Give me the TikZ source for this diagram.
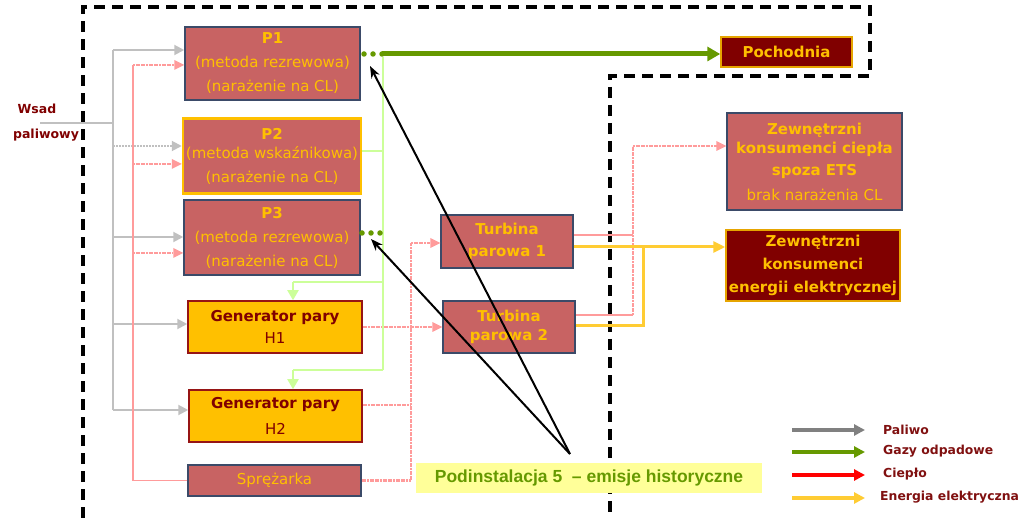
\documentclass[tikz,border=0pt]{standalone}
\usepackage{fontspec}
\setmainfont{DejaVu Sans}
\newfontfamily\arialfont{Liberation Sans}
\usetikzlibrary{arrows.meta}

\definecolor{boxred}{RGB}{200,99,99}
\definecolor{boxblue}{RGB}{59,74,104}
\definecolor{txtyel}{RGB}{255,192,0}
\definecolor{darkred}{RGB}{128,0,0}
\definecolor{genedge}{RGB}{150,20,20}
\definecolor{fuelgray}{RGB}{192,192,192}
\definecolor{heatpink}{RGB}{255,155,155}
\definecolor{lightgreen}{RGB}{204,255,153}
\definecolor{gasgreen}{RGB}{102,153,0}
\definecolor{elyellow}{RGB}{255,204,51}
\definecolor{labelbg}{RGB}{255,255,153}
\definecolor{legendtxt}{RGB}{128,16,16}
\definecolor{pochedge}{RGB}{230,165,0}

\begin{document}
\begin{tikzpicture}[x=1pt,y=-1pt,
  boxtext/.style={align=center,inner sep=0pt,font=\fontsize{15}{24}\selectfont},
  pbox/.style={boxtext,draw=boxblue,line width=1.5pt,fill=boxred,text=txtyel},
  pboxy/.style={pbox,draw=txtyel,line width=2.5pt},
  genbox/.style={boxtext,draw=genedge,line width=1.5pt,fill=txtyel,text=darkred},
  darkbox/.style={boxtext,draw=pochedge,line width=1.5pt,fill=darkred,text=txtyel},
  boundary/.style={draw=black,line width=3.5pt,dash pattern=on 11pt off 7pt},
  fuel/.style={draw=fuelgray,line width=2pt},
  fuelarrow/.style={fuel,-{Triangle[length=10pt,width=10pt]}},
  heatline/.style={draw=heatpink,line width=1.6pt},
  heatdots/.style={draw=heatpink,line width=2.6pt,dash pattern=on 2pt off 0.6pt},
  heatarrow/.style={heatdots,-{Triangle[length=10pt,width=10pt,fill=heatpink,line width=0pt]}},
  lgreen/.style={draw=lightgreen,line width=2pt},
  lgreenarrow/.style={lgreen,-{Triangle[length=10pt,width=11pt]}},
  gasline/.style={draw=gasgreen,line width=5pt},
  gasdots/.style={draw=gasgreen,line width=5.5pt,line cap=round,dash pattern=on 0pt off 9pt},
  elec/.style={draw=elyellow,line width=3pt},
  elecarrow/.style={elec,-{Triangle[length=12pt,width=11pt]}},
  pointer/.style={draw=black,line width=2pt,-{Stealth[length=12pt,width=9pt]}},
  legarrow/.style={line width=3.5pt,-{Triangle[length=11pt,width=11pt]}},
  legtext/.style={anchor=west,inner sep=0pt,text=legendtxt,font=\fontsize{12.4}{14}\selectfont\bfseries}
]
\useasboundingbox (0,0) rectangle (1020,518);

% installation boundary
\draw[boundary] (83,518) -- (83,7) -- (870,7) -- (870,76) -- (610,76) -- (610,518);

% process units
\node[pbox,minimum width=175pt,minimum height=73pt] (p1) at (272.5,63.5)
  {\textbf{P1}\\(metoda rezrewowa)\\(narażenie na CL)};
\node[pboxy,minimum width=178pt,minimum height=75pt] (p2) at (272,156)
  {\textbf{P2}\\[-5pt](metoda wskaźnikowa)\\(narażenie na CL)};
\node[pbox,minimum width=176pt,minimum height=75pt] (p3) at (272,237.5)
  {\textbf{P3}\\(metoda rezrewowa)\\(narażenie na CL)};
\node[genbox,minimum width=174pt,minimum height=52pt] (h1) at (275,327)
  {\textbf{Generator pary}\\[-2pt]H1};
\node[genbox,minimum width=173pt,minimum height=52pt] (h2) at (275.5,416)
  {\textbf{Generator pary}\\[2pt]H2};
\node[pbox,minimum width=173pt,minimum height=31pt] (spr) at (274.5,480.5) {Sprężarka};
\node[pbox,minimum width=132pt,minimum height=53pt,font=\fontsize{15}{22}\selectfont\bfseries] (t1) at (507,241.5)
  {Turbina\\parowa 1};
\node[pbox,minimum width=132pt,minimum height=52pt,font=\fontsize{15}{19}\selectfont\bfseries] (t2) at (509,327)
  {Turbina\\parowa 2};
\node[darkbox,minimum width=131pt,minimum height=30pt,font=\fontsize{15}{17}\selectfont\bfseries] (poch) at (786.5,52) {Pochodnia};
\node[pbox,minimum width=175pt,minimum height=97pt] (zkc) at (814.5,161.5)
  {\textbf{Zewnętrzni}\\[-5pt]\textbf{konsumenci ciepła}\\[-2pt]\textbf{spoza ETS}\\[1pt]brak narażenia CL};
\node[darkbox,minimum width=174pt,minimum height=71pt,font=\fontsize{15}{23}\selectfont\bfseries] (zke) at (813,265.5)
  {Zewnętrzni\\konsumenci\\energii elektrycznej};

% fuel supply
\node[inner sep=0pt,text=darkred,font=\fontsize{12.5}{14}\selectfont\bfseries] (wsad) at (37,109) {Wsad};
\node[inner sep=0pt,text=darkred,font=\fontsize{12.5}{14}\selectfont\bfseries] (paliwowy) at (46,135) {paliwowy};
\coordinate (fuelin) at (40,123);
\draw[fuel] (fuelin) -- (113,123);
\draw[fuel] (113,50) -- (113,410);
\draw[fuelarrow] (113,50) -- (113,50 -| p1.west);
\draw[fuelarrow,dash pattern=on 2pt off 1pt] (113,146) -- (113,146 -| p2.west);
\draw[fuelarrow] (113,237) -- (113,237 -| p3.west);
\draw[fuelarrow] (113,324) -- (113,324 -| h1.west);
\draw[fuelarrow] (113,410) -- (113,410 -| h2.west);

% heat on the left side
\draw[heatline] (spr.west) -| (133,65);
\draw[heatarrow] (133,65) -- (133,65 -| p1.west);
\draw[heatarrow] (133,164) -- (133,164 -| p2.west);
\draw[heatarrow] (133,253) -- (133,253 -| p3.west);

% heat to the turbines
\draw[heatdots] (spr.east) -| (411,243);
\draw[heatdots] (362,405 -| h2.east) -- (411,405);
\draw[heatarrow] (411,243) -- (411,243 -| t1.west);
\draw[heatarrow] (h1.east) -- (t2.west);

% heat to external consumers
\draw[heatline] (573,235 -| t1.east) -- (633,235);
\draw[heatline] (575,315 -| t2.east) -- (633,315);
\draw[heatdots] (633,315) -- (633,146);
\draw[heatarrow] (633,146) -- (633,146 -| zkc.west);

% electricity
\draw[elecarrow] (573,247 -| t1.east) -- (726,247 -| zke.west);
\draw[elec] (575,326 -| t2.east) -| (643,247);

% waste gas collector
\draw[lgreen] (383,57) -- (383,370);
\draw[lgreen] (361,151 -| p2.east) -- (383,151);
\draw[lgreen] (383,282) -- (293,282);
\draw[lgreenarrow] (293,282) -- (293,282 |- h1.north);
\draw[lgreen] (383,370) -- (293,370);
\draw[lgreenarrow] (293,370) -- (293,370 |- h2.north);

% waste gas to the flare
\draw[gasdots] (364,54) -- (383,54);
\draw[gasline,-{Triangle[length=13pt,width=14pt]}] (382,54) -- (382,54 -| poch.west);
\draw[gasdots] (362,233) -- (381,233);

% callout
\node[fill=labelbg,minimum width=346pt,minimum height=30pt,inner sep=0pt,text=gasgreen,
  font=\arialfont\fontsize{17.5}{20}\selectfont\bfseries] (lab) at (589,478)
  {Podinstalacja 5~~– emisje historyczne};
\coordinate (callout) at (570,454);
\coordinate (p1gas) at (370,66);
\coordinate (p3gas) at (371,239);
\draw[pointer] (callout) -- (p1gas);
\draw[pointer] (callout) -- (p3gas);

% legend
\coordinate (l1a) at (792,430); \coordinate (l1b) at (865,430);
\coordinate (l2a) at (792,452); \coordinate (l2b) at (865,452);
\coordinate (l3a) at (792,475); \coordinate (l3b) at (865,475);
\coordinate (l4a) at (792,498); \coordinate (l4b) at (865,498);
\draw[legarrow,draw=gray,-{Triangle[length=11pt,width=11pt,fill=gray]}] (l1a) -- (l1b);
\draw[legarrow,draw=gasgreen] (l2a) -- (l2b);
\draw[legarrow,draw=red] (l3a) -- (l3b);
\draw[legarrow,draw=elyellow] (l4a) -- (l4b);
\node[legtext] (lg1) at (883,430) {Paliwo};
\node[legtext] (lg2) at (883,451) {Gazy odpadowe};
\node[legtext] (lg3) at (883,474) {Ciepło};
\node[legtext] (lg4) at (880,497) {Energia elektryczna};
\end{tikzpicture}
\end{document}
